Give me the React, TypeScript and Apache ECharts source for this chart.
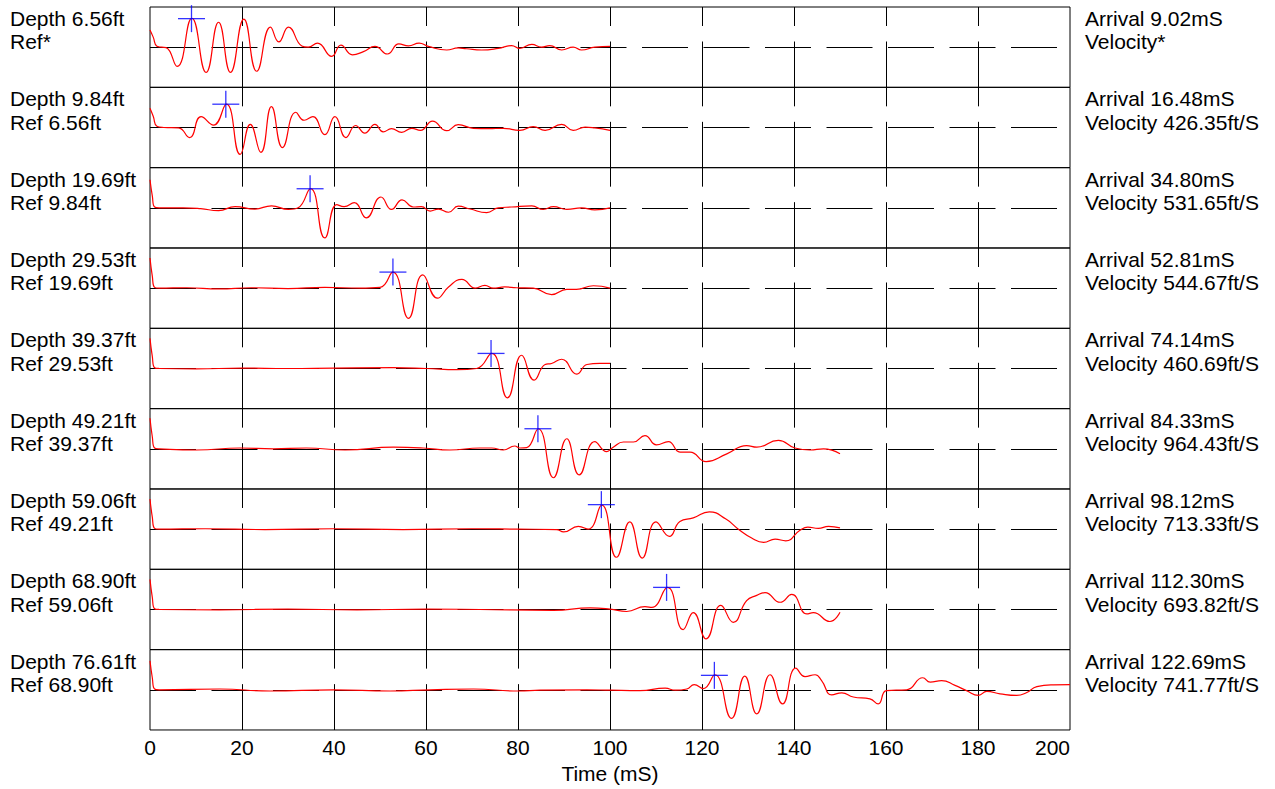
import React, { useEffect, useRef } from "react";
import * as echarts from "echarts";

// ---------- data ----------
const timeTicks = [0, 20, 40, 60, 80, 100, 120, 140, 160, 180, 200];
const depths = [6.56, 9.84, 19.69, 29.53, 39.37, 49.21, 59.06, 68.9, 76.61];
const refs: (number | null)[] = [null, 6.56, 9.84, 19.69, 29.53, 39.37, 49.21, 59.06, 68.9];
const arrivals = [9.02, 16.48, 34.8, 52.81, 74.14, 84.33, 98.12, 112.3, 122.69];
const velocities: (number | null)[] = [null, 426.35, 531.65, 544.67, 460.69, 964.43, 713.33, 693.82, 741.77];
const pickAmplitudes = [0.71, 0.58, 0.475, 0.4, 0.375, 0.5, 0.61, 0.55, 0.36];

const trace1 = [
  [0, 0.43], [0.7, 0.25], [1.5, 0.02], [2.5, 0], [3.5, -0.01], [5.9, -0.48], [9.1, 0.72], [12.2, -0.63],
  [14.9, 0.62], [17.5, -0.63], [20.4, 0.7], [23.2, -0.6], [26.2, 0.5], [28.0, 0.13], [30.1, 0.5], [33.0, 0.03],
  [34.4, 0], [36.4, 0.1], [39.5, -0.23], [41.5, 0.05], [44.0, -0.19], [46.4, -0.11], [48.9, 0.02], [51.6, -0.17],
  [54.1, 0.08], [56.2, 0.03], [58.5, 0.1], [60.5, 0.02], [64.5, -0.07], [67.0, -0.02], [68.8, -0.04], [72.1, -0.07],
  [75.7, -0.03], [78.6, 0.04], [80.4, -0.03], [83.0, 0.07], [85.1, 0], [86.9, 0.04], [89.5, -0.07], [92.0, 0],
  [93.8, -0.07], [96.7, 0], [100, 0.02],
];
const trace2 = [
  [0, 0.48], [0.7, 0.28], [1.5, 0.03], [3, 0], [6.2, -0.01], [8.6, -0.25], [11.1, 0.27], [13.8, 0.06],
  [16.6, 0.58], [19.6, -0.67], [21.8, 0.08], [24.1, -0.62], [26.4, 0.52], [28.8, -0.5], [31.7, 0.38], [33.5, 0.18],
  [35.4, 0.27], [38.0, -0.18], [40.2, 0.27], [42.6, -0.25], [44.7, 0.05], [46.7, -0.14], [48.9, 0.08], [50.7, -0.11],
  [52.5, -0.03], [54.7, -0.12], [56.9, -0.02], [58.8, -0.07], [61.4, 0.16], [64.5, -0.08], [67.0, 0.07], [70.3, -0.02],
  [73.6, -0.03], [76.8, -0.02], [80.4, -0.07], [83.3, 0.02], [85.9, -0.07], [89.5, 0.08], [92.0, -0.07], [94.6, 0.01],
  [96.7, -0.01], [100, -0.07],
];
const trace3 = [
  [0, 0.7], [0.5, 0.3], [1.0, 0.02], [2, 0], [7.2, 0], [11, -0.02], [14.9, -0.07], [18.5, 0.03], [22.8, -0.03],
  [26.4, 0.05], [30.1, -0.04], [32.2, 0], [34.9, 0.48], [38.0, -0.75], [40.6, 0.08], [42.2, 0.03], [44.4, 0.13],
  [47.0, -0.25], [50.2, 0.27], [52.5, -0.04], [54.8, 0.2], [57.2, 0.02], [59.0, 0.03], [60.9, -0.08], [62.7, -0.03],
  [64.9, -0.11], [67.0, 0.04], [69.6, -0.03], [73.2, -0.12], [75.7, 0], [78.6, 0.02], [83.0, 0.05], [85.5, -0.04],
  [87.7, 0.03], [90.6, -0.04], [93.8, 0], [96.7, -0.05], [100, 0],
];
const trace4 = [
  [0, 0.75], [0.5, 0.3], [1.0, 0.02], [2, 0], [8, 0.01], [15, -0.02], [22, 0.01], [30, -0.01], [38, 0.02],
  [45.7, 0], [50.0, 0.02], [52.8, 0.4], [56.2, -0.75], [59.3, 0.33], [62.5, -0.25], [64.9, 0.03], [67.8, 0.22],
  [70.7, 0], [72.8, 0.07], [74.6, 0], [77.1, 0.03], [79.7, 0.01], [83.3, 0], [87.3, -0.16], [90.6, -0.03],
  [92.7, -0.03], [96.4, 0.06], [100, 0],
];
const trace5 = [
  [0, 0.75], [0.5, 0.3], [1.0, 0.02], [2, 0], [10, -0.01], [20, 0.01], [30, 0], [40, 0.01], [52.9, 0.02],
  [60.1, 0], [66.7, -0.03], [71.0, 0], [74.3, 0.375], [77.7, -0.73], [80.8, 0.33], [83.5, -0.29], [85.9, 0.1],
  [87.3, 0.125], [89.5, 0.23], [92.8, -0.14], [95.0, 0.1], [97.8, 0.125], [100, 0.125],
];
const trace6 = [
  [0, 0.76], [0.5, 0.3], [1.0, 0.02], [2, 0], [10.1, -0.03], [19.6, 0.02], [26.8, 0], [34, 0.02], [42.4, -0.03],
  [52.9, 0.04], [59.4, 0.02], [65.2, -0.03], [71.7, 0.02], [74.3, 0.02], [76.8, -0.03], [79.3, 0.07], [80.4, 0.02],
  [81.9, 0.03], [84.4, 0.5], [87.7, -0.72], [90.6, 0.25], [93.3, -0.65], [96.7, 0.18], [99.3, -0.07], [100.7, 0.04],
  [102.9, 0.17], [105.1, 0.17], [107.6, 0.33], [110.1, 0.1], [112.7, 0.18], [115.2, -0.08], [117.4, -0.08],
  [120.9, -0.32], [125.4, -0.125], [129.7, 0.08], [131.9, 0.04], [136.6, 0.21], [140.2, 0.02], [143.5, -0.03],
  [146.4, 0], [150, -0.125],
];
const trace7 = [
  [0, 0.75], [0.5, 0.3], [1.0, 0.02], [2, 0], [12, 0.01], [25, -0.01], [40, 0.01], [55, -0.01], [70, 0.01],
  [80, 0], [88.4, -0.01], [89.9, -0.07], [93.1, 0.07], [95.3, 0], [98.2, 0.6], [101.4, -0.7], [104.3, 0.18],
  [107.0, -0.72], [110.0, 0.18], [112.9, -0.18], [115.2, 0.19], [118.1, 0.28], [121.6, 0.43], [125.2, 0.25],
  [127.9, 0.0], [130.8, -0.22], [133.4, -0.33], [135.9, -0.25], [138.2, -0.29], [141.3, -0.03], [143.0, 0.05],
  [145.3, 0.02], [147.5, 0.07], [150, 0.03],
];
const trace8 = [
  [0, 0.75], [0.5, 0.3], [1.0, 0.02], [2, 0], [15, -0.01], [30, 0.01], [45, -0.01], [60, 0.01], [71.7, 0],
  [87.7, -0.02], [95.7, 0.04], [100, 0.01], [103.6, -0.05], [107.6, 0.07], [109.1, 0.05], [112.5, 0.55],
  [115.9, -0.5], [118.1, -0.08], [120.9, -0.73], [124.1, 0.1], [126.8, -0.32], [129.7, 0.22], [131.9, 0.35],
  [133.7, 0.42], [137.0, 0.18], [139.5, 0.375], [142.8, -0.11], [144.2, -0.08], [147.8, -0.3], [150, -0.07],
];
const trace9 = [
  [0, 0.72], [0.5, 0.3], [1.0, 0.02], [2, 0], [15.2, 0.02], [26.1, -0.03], [39.9, 0], [52.2, -0.03], [61, 0],
  [70.3, 0.02], [80.1, -0.03], [84.8, -0.01], [95, 0], [100, -0.01], [106.5, -0.02], [112.0, 0.04], [114.2, -0.01],
  [116.7, 0.02], [118.3, 0.13], [120.3, 0.03], [122.8, 0.375], [126.4, -0.71], [129.3, 0.34], [131.9, -0.6],
  [134.8, 0.375], [137.5, -0.35], [140.4, 0.54], [142.4, 0.33], [144.6, 0.375], [146.0, 0.23], [148.2, -0.125],
  [150.4, -0.075], [152.9, -0.18], [156.5, -0.225], [158.3, -0.35], [160.1, -0.02], [164.5, 0], [168.0, 0.3],
  [169.6, 0.19], [172.1, 0.23], [175.0, 0.11], [177.5, -0.02], [180.1, -0.14], [181.9, -0.04], [184.8, -0.1],
  [188.4, -0.14], [190.5, -0.075], [192.8, 0.08], [196.4, 0.125], [200, 0.13],
];
const traces = [trace1, trace2, trace3, trace4, trace5, trace6, trace7, trace8, trace9];

// ---------- layout ----------
const FONT = '"Liberation Sans", Arial, Helvetica, sans-serif';
const FONT_SIZE = 21;
const PANEL_TOP = 7;
const PANEL_H = 80.33;
const LEFT = 150;
const RIGHT = 205;
const DASH = [46, 15.5];

export default function App() {
  const ref = useRef<HTMLDivElement>(null);

  useEffect(() => {
    if (!ref.current) return;
    const chart = echarts.init(ref.current, undefined, { renderer: "svg" });
    const n = traces.length;
    const grid: any[] = [];
    const xAxis: any[] = [];
    const yAxis: any[] = [];
    const series: any[] = [];
    const graphic: any[] = [];

    traces.forEach((tr, i) => {
      const top = PANEL_TOP + i * PANEL_H;
      const last = i === n - 1;
      grid.push({
        left: LEFT, right: RIGHT, top, height: PANEL_H,
        show: true, borderColor: "#000", borderWidth: 1, backgroundColor: "transparent",
      });
      xAxis.push({
        gridIndex: i, type: "value", min: timeTicks[0], max: timeTicks[timeTicks.length - 1],
        interval: timeTicks[1] - timeTicks[0],
        axisLine: { show: false }, axisTick: { show: false },
        axisLabel: {
          show: last, fontSize: FONT_SIZE, color: "#000", fontFamily: FONT, margin: 7,
          showMinLabel: true, showMaxLabel: true, alignMaxLabel: "right",
        },
        splitLine: {
          show: true, showMinLine: false, showMaxLine: false,
          lineStyle: { color: "#000", width: 1, type: DASH, dashOffset: 27 },
        },
        name: last ? "Time (mS)" : "",
        nameLocation: "middle", nameGap: 33,
        nameTextStyle: { fontSize: FONT_SIZE, color: "#000", fontFamily: FONT },
      });
      yAxis.push({ gridIndex: i, type: "value", min: -1, max: 1, show: false });
      series.push({
        type: "line", xAxisIndex: i, yAxisIndex: i, data: tr,
        smooth: 0.5, showSymbol: false, symbol: "none",
        lineStyle: { color: "#ff0000", width: 1.2 },
        z: 3,
        markLine: {
          silent: true, symbol: ["none", "none"], label: { show: false },
          lineStyle: { color: "#000", width: 1, type: DASH },
          emphasis: { disabled: true },
          data: [{ yAxis: 0 }],
          z: 2,
        },
      });
      series.push({
        type: "scatter", xAxisIndex: i, yAxisIndex: i, symbol: "rect", symbolSize: [27, 1.3],
        data: [[arrivals[i], pickAmplitudes[i]]], itemStyle: { color: "#0000ff" }, z: 5, silent: true,
      });
      series.push({
        type: "scatter", xAxisIndex: i, yAxisIndex: i, symbol: "rect", symbolSize: [1.3, 27],
        data: [[arrivals[i], pickAmplitudes[i]]], itemStyle: { color: "#0000ff" }, z: 5, silent: true,
      });

      const leftText = `Depth ${depths[i].toFixed(2)}ft\n` + (refs[i] == null ? "Ref*" : `Ref ${(refs[i] as number).toFixed(2)}ft`);
      const rightText = `Arrival ${arrivals[i].toFixed(2)}mS\n` +
        (velocities[i] == null ? "Velocity*" : `Velocity ${(velocities[i] as number).toFixed(2)}ft/S`);
      graphic.push({
        type: "text", x: 10, y: top,
        style: { text: leftText, fontSize: FONT_SIZE, fontFamily: FONT, fill: "#000", lineHeight: 23.3, verticalAlign: "top", align: "left" },
      });
      graphic.push({
        type: "text", x: 1085, y: top,
        style: { text: rightText, fontSize: FONT_SIZE, fontFamily: FONT, fill: "#000", lineHeight: 23.3, verticalAlign: "top", align: "left" },
      });
    });

    chart.setOption({
      animation: false,
      backgroundColor: "#fff",
      grid, xAxis, yAxis, series, graphic,
    });
    return () => chart.dispose();
  }, []);

  return (
    <div
      ref={ref}
      style={{ position: "fixed", left: 0, top: 0, width: 1275, height: 789, background: "#fff" }}
    />
  );
}
